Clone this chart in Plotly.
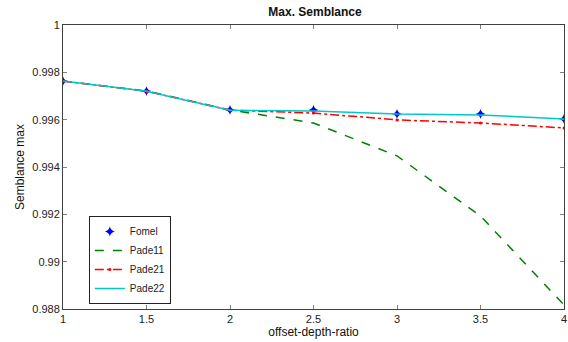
import plotly.graph_objects as go

x = [1, 1.5, 2, 2.5, 3, 3.5, 4]
fomel = [0.99763, 0.99721, 0.99641, 0.99641, 0.99624, 0.99624, 0.99603]
pade11 = [0.99763, 0.99721, 0.99641, 0.99586, 0.99447, 0.99193, 0.98817]
pade21 = [0.99763, 0.99720, 0.99640, 0.99628, 0.99599, 0.99586, 0.99565]
pade22 = [0.99763, 0.99720, 0.99640, 0.99637, 0.99624, 0.99620, 0.99603]
yticks = [0.988, 0.99, 0.992, 0.994, 0.996, 0.998, 1]
yticklabels = ["0.988", "0.99", "0.992", "0.994", "0.996", "0.998", "1"]
xticks = [1, 1.5, 2, 2.5, 3, 3.5, 4]
xticklabels = ["1", "1.5", "2", "2.5", "3", "3.5", "4"]

FONT = "Liberation Sans, Arial, sans-serif"

fig = go.Figure()
fig.add_trace(go.Scatter(x=x, y=fomel, mode="markers", name="Fomel",
                         marker=dict(symbol="star-diamond", size=7, color="#0000ff")))
fig.add_trace(go.Scatter(x=x, y=pade11, mode="lines", name="Pade11",
                         line=dict(color="#008000", width=1.5, dash="dash")))
fig.add_trace(go.Scatter(x=x, y=pade21, mode="lines+markers", name="Pade21",
                         line=dict(color="#ff0000", width=1.5, dash="dashdot"),
                         marker=dict(size=3, color="#ff0000")))
fig.add_trace(go.Scatter(x=x, y=pade22, mode="lines", name="Pade22",
                         line=dict(color="#00c8c8", width=1.5)))

axis_common = dict(showgrid=False, zeroline=False, showline=True, linecolor="#404040",
                   linewidth=1, mirror="ticks", ticks="inside", ticklen=4,
                   tickcolor="#808080", ticklabeloverflow="allow",
                   tickfont=dict(family=FONT, size=11, color="#222"))

fig.update_xaxes(range=[1, 4], tickvals=xticks, ticktext=xticklabels,
                 title=dict(text="offset-depth-ratio", font=dict(family=FONT, size=12, color="#111"),
                            standoff=2), **axis_common)
fig.update_yaxes(range=[0.988, 1.0], tickvals=yticks, ticktext=yticklabels,
                 title=dict(text="Semblance max", font=dict(family=FONT, size=12, color="#111"),
                            standoff=5), **axis_common)

fig.update_layout(
    width=568, height=342,
    margin=dict(l=63, r=1, t=25, b=33),
    paper_bgcolor="white", plot_bgcolor="white",
    title=dict(text="<b>Max. Semblance</b>", x=(63 + 567) / 2 / 568, xanchor="center",
               y=1 - 12 / 342, yanchor="middle", yref="container",
               font=dict(family=FONT, size=12, color="#111")),
    legend=dict(x=(89 - 63) / 504, y=(309 - 304) / 284, xanchor="left", yanchor="bottom",
                bordercolor="#222", borderwidth=1, bgcolor="white",
                font=dict(family=FONT, size=10, color="#222"),
                tracegroupgap=0, itemwidth=30),
    showlegend=True,
)

fig.write_html("out.html")
